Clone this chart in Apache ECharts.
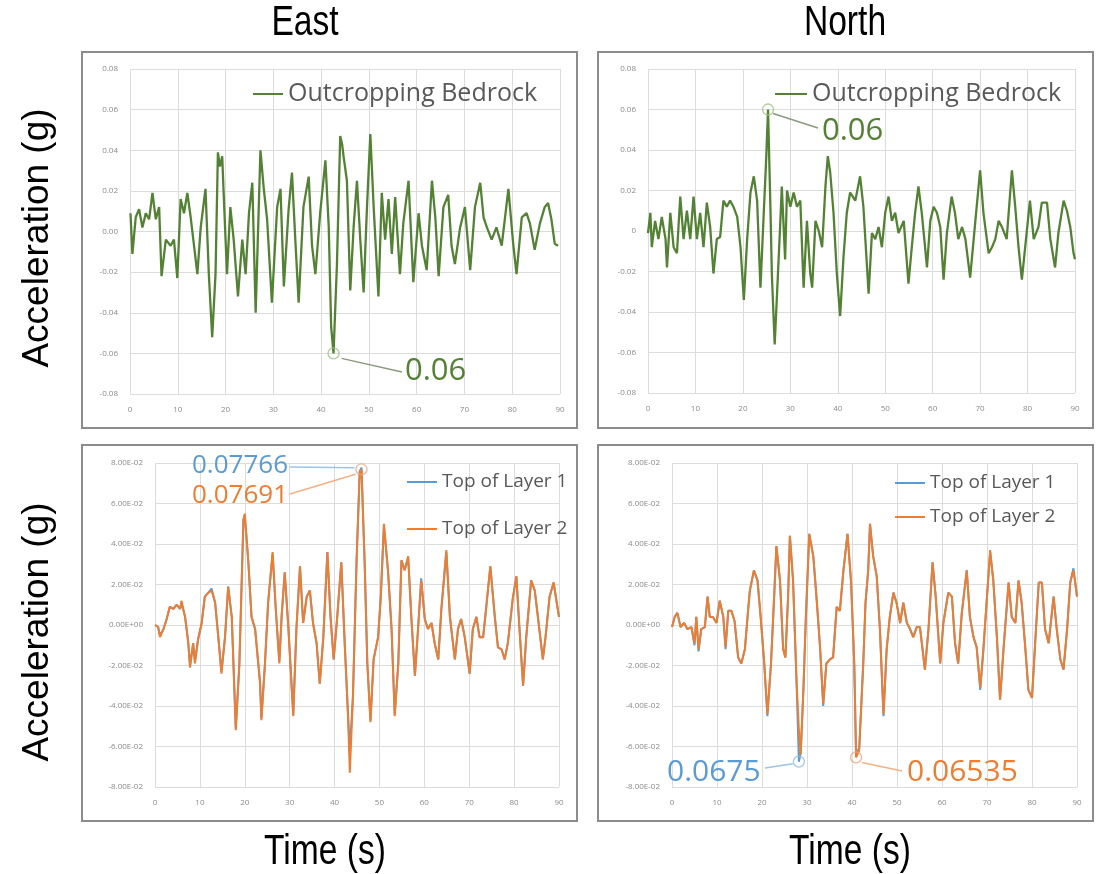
<!DOCTYPE html>
<html><head><meta charset="utf-8">
<script src="https://cdn.jsdelivr.net/npm/echarts@6/dist/echarts.min.js"></script>
<style>html,body{margin:0;padding:0;background:#fff}#c{width:1096px;height:874px}</style>
</head><body><div id="c"></div>
<script>
// ---------------- DATA (time s, acceleration g) ----------------
const panelTitles = ['East', 'North'];
const yTitle = 'Acceleration (g)';
const xTitle = 'Time (s)';
const seriesNames = ['Outcropping Bedrock', 'Top of Layer 1', 'Top of Layer 2'];

const eastRock = [[0.1,0.009],[0.5,-0.011],[1.2,0.007],[1.9,0.011],[2.6,0.002],[3.3,0.009],[4.0,0.006],[4.7,0.019],[5.4,0.006],[6.1,0.012],[6.6,-0.022],[7.5,-0.004],[8.5,-0.007],[9.2,-0.004],[9.9,-0.023],[10.6,0.016],[11.3,0.009],[12.0,0.019],[12.7,0.007],[13.4,-0.007],[14.1,-0.021],[14.8,0.002],[15.8,0.021],[16.5,-0.021],[17.2,-0.052],[17.9,-0.021],[18.4,0.039],[18.8,0.032],[19.3,0.037],[19.6,0.019],[20.3,-0.021],[21.0,0.012],[21.7,-0.004],[22.6,-0.032],[23.5,-0.004],[24.2,-0.021],[24.9,0.009],[25.6,0.024],[26.3,-0.040],[27.3,0.040],[28.0,0.021],[28.7,0.006],[29.7,-0.035],[30.8,0.012],[31.5,0.021],[32.2,-0.027],[33.2,0.011],[33.9,0.029],[34.6,-0.004],[35.3,-0.035],[36.3,0.012],[37.4,0.027],[38.1,-0.007],[38.8,-0.021],[39.8,0.009],[40.9,0.035],[41.6,0.002],[42.1,-0.047],[42.6,-0.060],[43.3,-0.017],[44.0,0.047],[44.4,0.043],[44.7,0.037],[45.4,0.025],[46.1,-0.029],[46.8,0.002],[47.5,0.025],[48.2,-0.004],[48.9,-0.030],[49.6,0.012],[50.3,0.048],[51.0,0.012],[52.0,-0.032],[52.7,0.019],[53.4,-0.004],[54.1,0.016],[54.8,-0.011],[55.5,0.017],[56.5,-0.021],[57.2,0.004],[58.3,0.025],[59.3,-0.025],[60.4,0.009],[61.1,-0.007],[62.1,-0.019],[63.2,0.025],[63.9,0.007],[64.6,-0.022],[65.6,0.012],[66.6,0.018],[67.3,-0.007],[68.0,-0.016],[69.1,0.002],[70.1,0.012],[71.2,-0.019],[72.2,0.012],[73.3,0.024],[74.0,0.007],[74.7,0.002],[75.7,-0.004],[76.7,0.002],[77.8,-0.007],[79.2,0.021],[80.2,-0.006],[80.9,-0.021],[82.0,0.007],[83.0,0.009],[83.7,0.004],[84.7,-0.009],[85.8,0.004],[86.8,0.012],[87.5,0.014],[88.2,0.006],[88.9,-0.006],[89.6,-0.007]];

const northRock = [[0,-0.001],[0.5,0.009],[0.8,-0.008],[1.5,0.005],[2.2,-0.004],[2.9,0.007],[3.7,-0.004],[4.0,-0.018],[4.7,0.009],[5.4,-0.008],[6.1,-0.011],[6.8,0.017],[7.5,-0.004],[8.2,0.010],[8.9,-0.004],[9.6,0.017],[10.3,-0.004],[11.0,0.009],[11.7,-0.008],[12.4,0.014],[13.1,0.002],[13.8,-0.021],[14.5,-0.004],[15.2,-0.003],[15.9,0.015],[16.6,0.012],[17.3,0.015],[18.0,0.012],[18.8,0.007],[19.5,-0.008],[20.2,-0.034],[20.9,-0.004],[21.6,0.019],[22.3,0.027],[23.0,0.015],[23.7,-0.028],[24.4,0.009],[24.9,0.035],[25.3,0.060],[25.8,0.012],[26.1,-0.021],[26.7,-0.056],[27.2,-0.031],[27.9,0.005],[28.2,0.022],[28.9,-0.014],[29.3,0.020],[30.0,0.012],[30.7,0.019],[31.4,0.012],[32.1,0.015],[32.8,-0.028],[33.5,0.005],[34.2,-0.021],[34.6,-0.028],[35.3,0.005],[36.0,0.000],[36.7,-0.008],[37.4,0.022],[37.9,0.037],[38.4,0.029],[39.1,0.009],[39.8,-0.021],[40.5,-0.042],[41.2,-0.013],[41.9,0.009],[42.6,0.019],[43.7,0.015],[44.7,0.027],[45.4,0.012],[46.5,-0.031],[47.2,-0.001],[47.9,-0.004],[48.6,0.002],[49.3,-0.008],[50.0,0.009],[50.7,0.017],[51.4,0.005],[52.1,0.009],[52.8,-0.001],[53.9,0.005],[54.9,-0.026],[55.6,-0.008],[56.3,0.009],[57.0,0.022],[57.7,0.009],[58.4,-0.008],[58.8,-0.018],[59.5,0.005],[60.2,0.012],[60.9,0.009],[61.6,0.002],[62.3,-0.024],[63.0,-0.001],[64.0,0.017],[64.7,0.009],[65.4,-0.004],[66.2,0.002],[66.9,-0.004],[67.9,-0.023],[69.0,0.005],[70.0,0.030],[70.7,0.009],[71.8,-0.011],[72.5,-0.008],[73.2,-0.004],[73.9,0.005],[74.6,0.002],[75.6,-0.004],[76.7,0.030],[77.4,0.012],[78.1,-0.008],[78.8,-0.024],[79.5,-0.008],[80.5,0.015],[81.3,-0.004],[82.3,0.002],[83.0,0.014],[84.1,0.014],[84.8,-0.004],[85.8,-0.018],[86.5,-0.001],[87.6,0.015],[88.3,0.010],[89.0,0.002],[89.7,-0.011],[90.0,-0.014]];

const eastLayer2 = [[0,0],[0.7,-0.001],[1.1,-0.006],[1.9,-0.002],[2.6,0.003],[3.3,0.009],[4.1,0.008],[4.8,0.010],[5.6,0.008],[5.9,0.012],[6.7,0.004],[7.4,-0.009],[7.8,-0.021],[8.5,-0.009],[8.9,-0.019],[9.6,-0.007],[10.4,0.001],[11.1,0.014],[11.9,0.016],[12.6,0.017],[13.4,0.011],[14.1,-0.006],[14.8,-0.024],[15.6,-0.006],[16.3,0.019],[17.1,0.004],[18.0,-0.052],[18.8,-0.019],[19.7,0.052],[20.0,0.055],[20.8,0.031],[21.5,0.004],[22.3,-0.002],[23.4,-0.029],[23.7,-0.047],[24.5,-0.019],[25.2,0.011],[26.2,0.036],[26.9,0.008],[27.7,-0.019],[28.2,0.004],[28.9,0.026],[29.7,-0.001],[30.8,-0.045],[31.5,-0.002],[32.3,0.029],[33.0,0.001],[33.8,0.014],[34.5,0.017],[35.2,0.001],[36.0,-0.009],[36.7,-0.029],[37.5,-0.006],[38.4,0.036],[39.1,0.004],[39.8,-0.017],[40.6,0.004],[41.5,0.031],[42.3,-0.011],[43.0,-0.045],[43.4,-0.073],[44.1,-0.035],[44.9,0.031],[45.6,0.075],[46.0,0.0769],[46.7,0.031],[47.3,-0.019],[48.0,-0.048],[48.7,-0.017],[49.7,-0.006],[50.3,0.014],[51.0,0.050],[51.9,0.027],[52.7,-0.002],[53.4,-0.045],[54.2,-0.019],[54.9,0.032],[55.6,0.027],[56.4,0.034],[57.1,0.004],[57.9,-0.025],[58.6,-0.002],[59.3,0.022],[60.1,0.003],[60.8,-0.002],[61.6,0.001],[62.3,-0.009],[63.1,-0.017],[63.8,0.008],[64.9,0.037],[65.7,0.004],[66.8,-0.017],[67.5,-0.002],[68.2,0.003],[69.0,-0.006],[70.1,-0.024],[70.8,-0.002],[71.6,0.004],[72.3,-0.006],[73.1,-0.006],[73.8,0.009],[74.7,0.029],[75.7,0.004],[76.4,-0.011],[77.2,-0.012],[77.9,-0.017],[78.6,-0.009],[79.7,0.013],[80.5,0.024],[81.2,-0.002],[82.0,-0.030],[82.7,-0.006],[83.8,0.022],[84.6,0.017],[85.3,0.004],[86.4,-0.017],[87.0,-0.006],[87.9,0.014],[88.8,0.021],[89.5,0.011],[90.0,0.004]];

const eastLayer1 = [[0,0],[0.7,-0.001],[1.1,-0.005],[1.9,-0.002],[2.6,0.003],[3.3,0.009],[4.1,0.008],[4.8,0.010],[5.6,0.008],[5.9,0.011],[6.7,0.004],[7.4,-0.008],[7.8,-0.020],[8.5,-0.009],[8.9,-0.018],[9.6,-0.007],[10.4,0.001],[11.1,0.014],[11.9,0.016],[12.6,0.018],[13.4,0.011],[14.1,-0.006],[14.8,-0.023],[15.6,-0.006],[16.3,0.019],[17.1,0.004],[18.0,-0.051],[18.8,-0.019],[19.7,0.052],[20.0,0.054],[20.8,0.031],[21.5,0.004],[22.3,-0.002],[23.4,-0.028],[23.7,-0.046],[24.5,-0.019],[25.2,0.011],[26.2,0.035],[26.9,0.008],[27.7,-0.018],[28.2,0.004],[28.9,0.026],[29.7,-0.001],[30.8,-0.044],[31.5,-0.002],[32.3,0.029],[33.0,0.001],[33.8,0.014],[34.5,0.017],[35.2,0.001],[36.0,-0.009],[36.7,-0.029],[37.5,-0.006],[38.4,0.036],[39.1,0.004],[39.8,-0.017],[40.6,0.004],[41.5,0.031],[42.3,-0.011],[43.0,-0.044],[43.4,-0.062],[44.1,-0.035],[44.9,0.032],[45.6,0.076],[46.0,0.0777],[46.7,0.031],[47.3,-0.019],[48.0,-0.047],[48.7,-0.017],[49.7,-0.006],[50.3,0.014],[51.0,0.049],[51.9,0.027],[52.7,-0.002],[53.4,-0.044],[54.2,-0.019],[54.9,0.032],[55.6,0.027],[56.4,0.033],[57.1,0.004],[57.9,-0.025],[58.6,-0.002],[59.3,0.023],[60.1,0.003],[60.8,-0.002],[61.6,0.001],[62.3,-0.009],[63.1,-0.017],[63.8,0.008],[64.9,0.036],[65.7,0.004],[66.8,-0.017],[67.5,-0.002],[68.2,0.003],[69.0,-0.006],[70.1,-0.024],[70.8,-0.002],[71.6,0.004],[72.3,-0.006],[73.1,-0.006],[73.8,0.009],[74.7,0.029],[75.7,0.004],[76.4,-0.011],[77.2,-0.012],[77.9,-0.017],[78.6,-0.009],[79.7,0.013],[80.5,0.024],[81.2,-0.002],[82.0,-0.030],[82.7,-0.006],[83.8,0.022],[84.6,0.017],[85.3,0.004],[86.4,-0.017],[87.0,-0.006],[87.9,0.014],[88.8,0.021],[89.5,0.011],[90.0,0.004]];

const northLayer2 = [[0,-0.001],[0.6,0.004],[1.2,0.006],[1.9,-0.001],[2.7,0.001],[3.4,-0.002],[4.3,-0.001],[5.0,-0.009],[5.4,0.004],[5.9,-0.012],[6.5,-0.002],[7.3,-0.001],[7.9,0.014],[8.4,0.004],[9.1,0.004],[9.9,0.001],[10.6,0.012],[11.4,0.004],[11.9,-0.011],[12.5,0.007],[13.2,0.007],[13.9,0.002],[14.7,-0.016],[15.4,-0.019],[16.2,-0.012],[16.9,0.007],[17.3,0.017],[18.2,0.027],[19.0,0.022],[19.7,0.004],[20.5,-0.019],[21.2,-0.044],[22.0,-0.019],[22.7,0.014],[23.2,0.039],[24.0,0.022],[24.7,-0.012],[25.2,-0.016],[25.8,0.014],[26.2,0.044],[26.9,0.022],[27.7,-0.029],[28.2,-0.052],[28.6,-0.064],[29.2,-0.032],[29.7,0.001],[30.5,0.045],[31.4,0.034],[32.1,0.014],[32.9,-0.011],[33.6,-0.039],[34.3,-0.019],[35.1,-0.017],[35.8,-0.016],[36.6,0.009],[37.3,0.007],[38.1,0.027],[39.0,0.045],[39.8,0.021],[40.5,-0.019],[40.9,-0.0654],[41.6,-0.062],[42.5,-0.019],[43.0,0.011],[43.6,0.027],[44.0,0.050],[44.7,0.034],[45.5,0.024],[46.2,-0.002],[47.0,-0.044],[47.7,-0.012],[48.4,0.004],[49.2,0.016],[49.9,0.011],[50.7,0.001],[51.4,0.011],[52.2,0.001],[52.9,-0.002],[53.6,-0.006],[54.4,-0.001],[55.1,-0.001],[56.2,-0.022],[57.0,-0.002],[57.9,0.031],[58.6,0.014],[59.6,-0.019],[60.3,0.001],[61.4,0.016],[62.2,0.014],[62.9,-0.009],[63.6,-0.019],[64.4,0.006],[65.5,0.027],[66.2,0.004],[67.0,-0.006],[67.7,-0.011],[68.5,-0.031],[69.2,-0.012],[70.0,0.014],[70.7,0.037],[71.4,0.022],[72.2,-0.006],[72.9,-0.037],[73.7,-0.011],[74.8,0.021],[75.5,0.004],[76.3,0.001],[77.0,0.022],[77.7,0.011],[78.5,-0.011],[79.2,-0.032],[80.0,-0.036],[80.7,-0.009],[81.5,0.021],[82.2,0.021],[82.9,-0.002],[83.7,-0.009],[84.8,0.014],[85.5,-0.002],[86.3,-0.017],[87.0,-0.022],[87.8,-0.002],[88.5,0.021],[89.2,0.027],[89.6,0.021],[90.0,0.014]];

const northLayer1 = [[0,-0.001],[0.6,0.004],[1.2,0.006],[1.9,-0.001],[2.7,0.001],[3.4,-0.002],[4.3,-0.001],[5.0,-0.010],[5.4,0.004],[5.9,-0.013],[6.5,-0.002],[7.3,-0.001],[7.9,0.014],[8.4,0.004],[9.1,0.004],[9.9,0.001],[10.6,0.012],[11.4,0.004],[11.9,-0.012],[12.5,0.007],[13.2,0.007],[13.9,0.002],[14.7,-0.016],[15.4,-0.019],[16.2,-0.012],[16.9,0.007],[17.3,0.017],[18.2,0.027],[19.0,0.022],[19.7,0.004],[20.5,-0.019],[21.2,-0.045],[22.0,-0.019],[22.7,0.014],[23.2,0.039],[24.0,0.022],[24.7,-0.012],[25.2,-0.016],[25.8,0.014],[26.2,0.044],[26.9,0.022],[27.7,-0.030],[28.2,-0.0675],[28.6,-0.063],[29.2,-0.032],[29.7,0.001],[30.5,0.045],[31.4,0.034],[32.1,0.014],[32.9,-0.011],[33.6,-0.040],[34.3,-0.019],[35.1,-0.017],[35.8,-0.016],[36.6,0.009],[37.3,0.007],[38.1,0.027],[39.0,0.045],[39.8,0.021],[40.5,-0.019],[40.9,-0.063],[41.6,-0.061],[42.5,-0.019],[43.0,0.011],[43.6,0.027],[44.0,0.050],[44.7,0.034],[45.5,0.024],[46.2,-0.002],[47.0,-0.045],[47.7,-0.012],[48.4,0.004],[49.2,0.016],[49.9,0.011],[50.7,0.001],[51.4,0.011],[52.2,0.001],[52.9,-0.002],[53.6,-0.006],[54.4,-0.001],[55.1,-0.001],[56.2,-0.022],[57.0,-0.002],[57.9,0.031],[58.6,0.014],[59.6,-0.019],[60.3,0.001],[61.4,0.016],[62.2,0.014],[62.9,-0.009],[63.6,-0.019],[64.4,0.006],[65.5,0.027],[66.2,0.004],[67.0,-0.006],[67.7,-0.011],[68.5,-0.032],[69.2,-0.012],[70.0,0.014],[70.7,0.036],[71.4,0.022],[72.2,-0.006],[72.9,-0.037],[73.7,-0.011],[74.8,0.021],[75.5,0.004],[76.3,0.001],[77.0,0.022],[77.7,0.011],[78.5,-0.011],[79.2,-0.032],[80.0,-0.036],[80.7,-0.009],[81.5,0.021],[82.2,0.021],[82.9,-0.002],[83.7,-0.009],[84.8,0.014],[85.5,-0.002],[86.3,-0.017],[87.0,-0.022],[87.8,-0.002],[88.5,0.021],[89.2,0.028],[89.6,0.021],[90.0,0.014]];

// annotated peaks: [time, value, label]
const peakEastRock = [42.6, -0.060, '0.06'];
const peakNorthRock = [25.3, 0.060, '0.06'];
const peakEastL1 = [46.0, 0.0777, '0.07766'];
const peakEastL2 = [46.0, 0.0769, '0.07691'];
const peakNorthL1 = [28.2, -0.0675, '0.0675'];
const peakNorthL2 = [40.9, -0.0654, '0.06535'];

// ---------------- CHART ----------------
const GREEN = '#548235', BLUE = '#5b9bd5', ORANGE = '#ed7d31';
const chart = echarts.init(document.getElementById('c'));
const grids = [
  {left: 130, top: 69, width: 430, height: 325},
  {left: 648, top: 69, width: 427, height: 324},
  {left: 155, top: 463, width: 404, height: 324},
  {left: 672, top: 463, width: 405, height: 324}
];
const fmtTL = v => v.toFixed(2);
const fmtTR = v => Math.abs(v) < 1e-9 ? '0' : v.toFixed(2);
const fmtE = v => {
  if (Math.abs(v) < 1e-9) return '0.00E+00';
  const s = v.toExponential(2).toUpperCase();
  return s.replace(/E([+-])(\d)$/, 'E$10$2');
};
const fmts = [fmtTL, fmtTR, fmtE, fmtE];
const axisLbl = {fontSize: 8, color: '#8a8a8a', margin: 12, fontFamily: 'Open Sans'};

const xAxis = grids.map((g, i) => ({
  gridIndex: i, type: 'value', min: 0, max: 90, interval: 10,
  axisLine: {show: false}, axisTick: {show: false},
  splitLine: {show: true, lineStyle: {color: '#dcdcdc', width: 1}},
  axisLabel: axisLbl
}));
const yAxis = grids.map((g, i) => ({
  gridIndex: i, type: 'value', min: -0.08, max: 0.08, interval: 0.02,
  axisLine: {show: false}, axisTick: {show: false},
  splitLine: {show: true, lineStyle: {color: '#dcdcdc', width: 1}},
  axisLabel: Object.assign({}, axisLbl, {formatter: fmts[i]})
}));

function lineS(name, data, gi, color, z, w) {
  return {name, type: 'line', xAxisIndex: gi, yAxisIndex: gi, data, showSymbol: false,
    lineStyle: {color, width: w}, itemStyle: {color}, z, animation: false};
}
function circleS(p, gi, color) {
  return {type: 'scatter', xAxisIndex: gi, yAxisIndex: gi, data: [[p[0], p[1]]],
    symbol: 'circle', symbolSize: 11, silent: true, z: 10,
    itemStyle: {color: 'rgba(255,255,255,0)', borderColor: color, borderWidth: 1.3}};
}

const series = [
  lineS(seriesNames[0], eastRock, 0, GREEN, 3, 2.3),
  lineS(seriesNames[0], northRock, 1, GREEN, 3, 2.3),
  lineS(seriesNames[1], eastLayer1, 2, BLUE, 2, 2),
  lineS(seriesNames[2], eastLayer2, 2, ORANGE, 3, 2),
  lineS(seriesNames[1], northLayer1, 3, BLUE, 2, 2),
  lineS(seriesNames[2], northLayer2, 3, ORANGE, 3, 2),
  circleS(peakEastRock, 0, '#9cbf7e'),
  circleS(peakNorthRock, 1, '#9cbf7e'),
  circleS(peakEastL2, 2, '#e6a882'),
  circleS(peakNorthL1, 3, '#8dbbe2'),
  circleS(peakNorthL2, 3, '#eaa67c')
];

const legText = (size) => ({fontSize: size, color: '#595959', fontFamily: 'Open Sans', lineHeight: size + 1});
const legend = [
  {data: [seriesNames[0]], left: 248, top: 76, icon: 'rect', itemWidth: 30, itemHeight: 2, selectedMode: false, textStyle: legText(25)},
  {data: [seriesNames[0]], left: 770, top: 76, icon: 'rect', itemWidth: 32, itemHeight: 2, selectedMode: false, textStyle: legText(25)},
  {data: [seriesNames[1], seriesNames[2]], orient: 'vertical', left: 402, top: 467, itemGap: 27, icon: 'rect', itemWidth: 30, itemHeight: 2, selectedMode: false, textStyle: legText(19)},
  {data: [seriesNames[1], seriesNames[2]], orient: 'vertical', left: 890, top: 468, itemGap: 14, icon: 'rect', itemWidth: 30, itemHeight: 2, selectedMode: false, textStyle: legText(19)}
];

const frames = [[82, 52, 495, 376], [598, 52, 495, 376], [82, 445, 495, 376], [598, 445, 495, 376]];
const graphic = [];
frames.forEach((f, i) => graphic.push({id: 'fr' + i, type: 'rect', shape: {x: f[0], y: f[1], width: f[2], height: f[3]},
  style: {fill: 'none', stroke: '#8c8c8c', lineWidth: 2}, silent: true, z: 1}));
const sans = "'Liberation Sans',Arial,sans-serif";
[[panelTitles[0], 305, 23], [panelTitles[1], 845, 23], [xTitle, 325, 852], [xTitle, 850, 852]].forEach((t, i) =>
  graphic.push({id: 'tt' + i, type: 'text', x: t[1], y: t[2], scaleX: 0.8,
    style: {text: t[0], fill: '#000', font: "42px " + sans, textAlign: 'center', textVerticalAlign: 'middle'}}));
[[38, 238], [38, 632]].forEach((p, i) =>
  graphic.push({id: 'yt' + i, type: 'text', x: p[0], y: p[1], rotation: Math.PI / 2,
    style: {text: yTitle, fill: '#000', font: "37px " + sans, textAlign: 'center', textVerticalAlign: 'middle'}}));

chart.setOption({animation: false, grid: grids, xAxis, yAxis, series, legend, graphic});

// annotation labels and leader lines, anchored at the annotated data points
function px(p, gi) { return chart.convertToPixel({gridIndex: gi}, [p[0], p[1]]); }
const ann = [
  // [peak, gridIndex, color, lineColor, textX, textY, lineEndX, lineEndY, startDx, startDy, fontSize]
  [peakEastRock, 0, GREEN, '#8a9a7e', 405, 371, 402, 372, 8, 5, 31],
  [peakNorthRock, 1, GREEN, '#8a9a7e', 822, 131, 818, 128, 5, 4, 31],
  [peakEastL1, 2, BLUE, '#9dc3e6', 192, 466, 290, 467, -7, 0, 26],
  [peakEastL2, 2, ORANGE, '#f4b183', 192, 496, 290, 494, -6, 5, 26],
  [peakNorthL1, 3, BLUE, '#9dc3e6', 667, 772, 765, 768, -6, 2, 30],
  [peakNorthL2, 3, ORANGE, '#f4b183', 907, 772, 902, 771, 6, 5, 30]
];
const g2 = [];
ann.forEach((a, i) => {
  const c = px(a[0], a[1]);
  g2.push({id: 'al' + i, type: 'line', shape: {x1: c[0] + a[8], y1: c[1] + a[9], x2: a[6], y2: a[7]},
    style: {stroke: a[3], lineWidth: 1.5}, silent: true, z: 20});
  g2.push({id: 'at' + i, type: 'text', x: a[4], y: a[5], z: 20,
    style: {text: a[0][2], fill: a[2], font: a[10] + "px 'Open Sans',sans-serif", textAlign: 'left', textVerticalAlign: 'middle'}});
});
chart.setOption({graphic: g2});
</script></body></html>
